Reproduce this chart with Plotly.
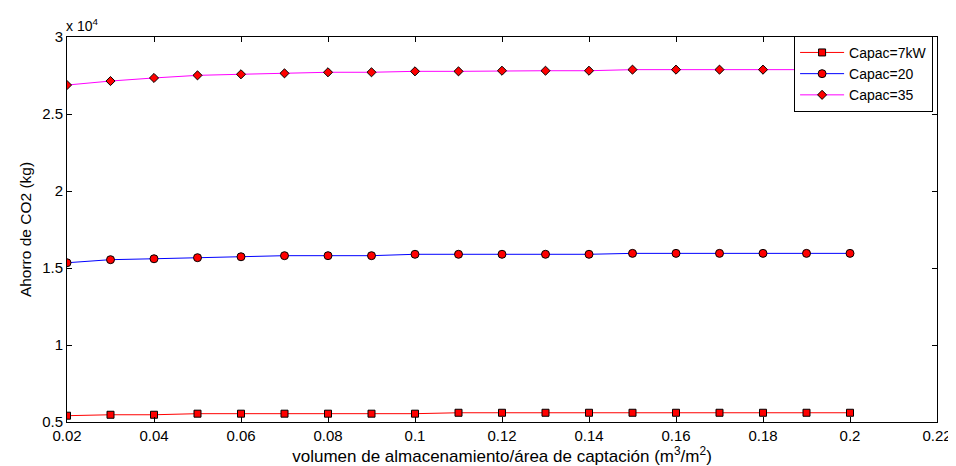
import plotly.graph_objects as go

x_vals = [0.02, 0.03, 0.04, 0.05, 0.06, 0.07, 0.08, 0.09, 0.10, 0.11,
          0.12, 0.13, 0.14, 0.15, 0.16, 0.17, 0.18, 0.19, 0.20]

capac7 = [5410, 5470, 5470, 5540, 5540, 5540, 5540, 5540, 5540, 5600,
          5600, 5600, 5600, 5600, 5600, 5600, 5600, 5600, 5600]
capac20 = [15340, 15540, 15600, 15670, 15730, 15800, 15800, 15800, 15890, 15890,
           15890, 15890, 15890, 15950, 15950, 15950, 15950, 15950, 15950]
capac35 = [26880, 27140, 27340, 27510, 27580, 27640, 27710, 27710, 27770, 27770,
           27810, 27810, 27810, 27880, 27880, 27880, 27880, 27880, 27880]

y_tickvals = [5000, 10000, 15000, 20000, 25000, 30000]
y_ticktext = ["0.5", "1", "1.5", "2", "2.5", "3"]
x_tickvals = [0.02, 0.04, 0.06, 0.08, 0.10, 0.12, 0.14, 0.16, 0.18, 0.20, 0.22]
x_ticktext = ["0.02", "0.04", "0.06", "0.08", "0.1", "0.12", "0.14", "0.16", "0.18", "0.2", "0.22"]

FONT = "Liberation Sans, Arial, sans-serif"

fig = go.Figure()
fig.add_trace(go.Scatter(x=x_vals, y=capac7, mode="lines+markers", name="Capac=7kW",
                         line=dict(color="#ff0000", width=1),
                         marker=dict(symbol="square", size=7, color="#ff0000",
                                     line=dict(color="black", width=1))))
fig.add_trace(go.Scatter(x=x_vals, y=capac20, mode="lines+markers", name="Capac=20",
                         line=dict(color="#0000ff", width=1),
                         marker=dict(symbol="circle", size=8, color="#ff0000",
                                     line=dict(color="black", width=1))))
fig.add_trace(go.Scatter(x=x_vals, y=capac35, mode="lines+markers", name="Capac=35",
                         line=dict(color="#ff00ff", width=1),
                         marker=dict(symbol="diamond", size=7, color="#ff0000",
                                     line=dict(color="black", width=1))))

fig.update_layout(
    width=956, height=466,
    margin=dict(l=59, r=15, t=29, b=52),
    paper_bgcolor="white", plot_bgcolor="white",
    font=dict(family=FONT, size=15, color="black"),
    showlegend=True,
    legend=dict(x=0.9955, y=1.003, xanchor="right", yanchor="top",
                bgcolor="white", bordercolor="black", borderwidth=1,
                font=dict(family=FONT, size=14, color="black"),
                tracegroupgap=0, itemwidth=44),
    xaxis=dict(range=[0.02, 0.22], tickvals=x_tickvals, ticktext=x_ticktext,
               ticks="inside", ticklen=5, tickcolor="black", mirror="ticks",
               showline=True, linecolor="black", linewidth=1, showgrid=False,
               zeroline=False, tickfont=dict(family=FONT, size=15),
               title=dict(text="volumen de almacenamiento/área de captación (m<sup>3</sup>/m<sup>2</sup>)",
                          font=dict(family=FONT, size=17), standoff=0)),
    yaxis=dict(range=[5000, 30000], tickvals=y_tickvals, ticktext=y_ticktext,
               ticks="inside", ticklen=5, tickcolor="black", mirror="ticks",
               showline=True, linecolor="black", linewidth=1, showgrid=False,
               zeroline=False, tickfont=dict(family=FONT, size=15),
               title=dict(text="Ahorro de CO2 (kg)", font=dict(family=FONT, size=15.5), standoff=6)),
    annotations=[dict(text="x 10<sup>4</sup>", xref="paper", yref="paper", x=0.0, y=1.0,
                      xanchor="left", yanchor="bottom", showarrow=False,
                      font=dict(family=FONT, size=14, color="black"), yshift=1, xshift=-3)],
)

fig.write_html("out.html")
